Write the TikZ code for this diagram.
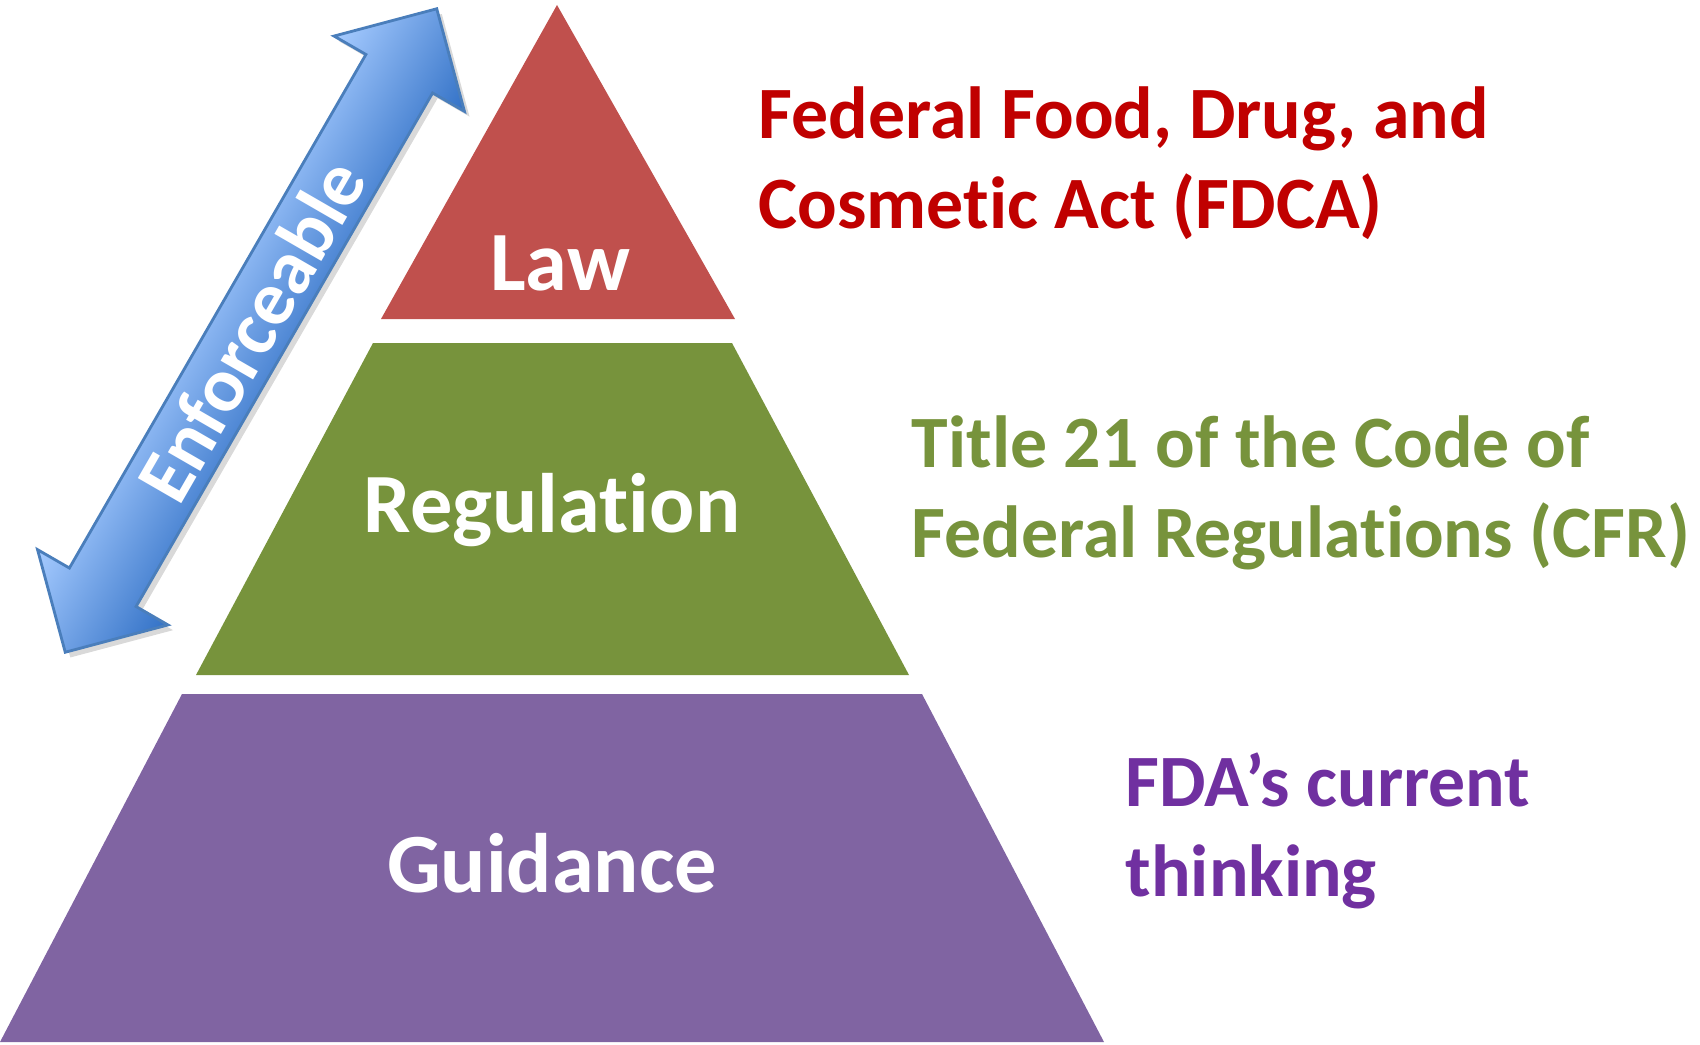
\documentclass[tikz,border=0pt]{standalone}
\usepackage{fontspec}
\setmainfont{Carlito}[Ligatures={NoCommon,TeX}]
\usetikzlibrary{shadows}

\definecolor{lawred}{HTML}{C0504D}
\definecolor{reggreen}{HTML}{77933C}
\definecolor{guidpurple}{HTML}{8064A2}
\definecolor{fdcared}{HTML}{C00000}
\definecolor{thinkpurple}{HTML}{7030A0}
\definecolor{arrowlight}{HTML}{A6CBFF}
\definecolor{arrowdark}{HTML}{3271C6}
\definecolor{arrowline}{HTML}{4A7EBB}

\begin{document}
\begin{tikzpicture}[
  level/.style={white, font=\fontsize{24}{29}\selectfont\bfseries, anchor=base},
  note/.style={font=\fontsize{21}{25.6}\selectfont\bfseries, align=left, anchor=base west, inner sep=0pt}]

\useasboundingbox (0,0) rectangle (17,10.44);

% pyramid
\fill[lawred] (3.81,7.25) -- (5.57,10.39) -- (7.35,7.25) -- cycle;
\fill[reggreen] (1.96,3.69) -- (3.73,7.01) -- (7.32,7.01) -- (9.09,3.69) -- cycle;
\fill[guidpurple] (0,0.02) -- (1.82,3.50) -- (9.22,3.50) -- (11.04,0.02) -- cycle;

\node (law) at (5.60,7.54) [level] {Law};
\node (regulation) at (5.52,5.12) [level] {Regulation};
\node (guidance) at (5.52,1.52) [level] {Guidance};

% enforceable arrow
\begin{scope}[transform canvas={shift={(2.51,7.135)},rotate=60}]
\shade[top color=arrowlight, bottom color=arrowdark, draw=arrowline, line width=0.8pt,
  drop shadow={shadow xshift=-0.02cm, shadow yshift=-0.07cm, opacity=0.3}]
  (-3.715,0) -- (-2.965,0.753) -- (-2.965,0.385) -- (2.965,0.385) -- (2.965,0.753)
  -- (3.715,0) -- (2.965,-0.753) -- (2.965,-0.385) -- (-2.965,-0.385) -- (-2.965,-0.753) -- cycle;
\end{scope}
\node (enforce) at (2.51,7.135) [rotate=60, white, font=\fontsize{22}{26}\selectfont\bfseries] {Enforceable};

% right hand notes (anchored at the last line)
\node (fdca) at (7.58,8.16) [note, fdcared] {Federal Food, Drug, and\\Cosmetic Act (FDCA)};
\node (cfr) at (9.11,4.87) [note, reggreen] {Title 21 of the Code of\\Federal Regulations (CFR)};
\node (thinking) at (11.25,1.48) [note, thinkpurple] {FDA’s current\\thinking};
\end{tikzpicture}
\end{document}
